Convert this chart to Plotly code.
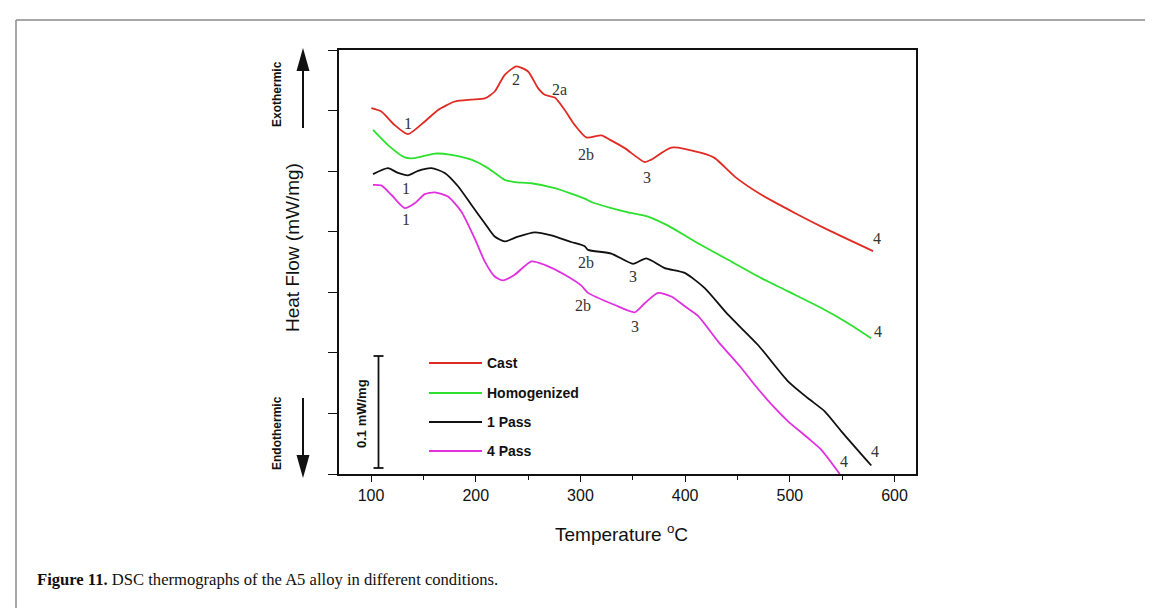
import plotly.graph_objects as go

# ---------------- data (temperature in °C, heat flow in tick units) ----------------
T_cast = [100.3, 109.8, 122.6, 135.3, 151.3, 164, 180, 195.8, 208.6, 218.1, 227.7, 238.8, 250,
          259.5, 265.9, 275.5, 285, 294.6, 305.6, 320, 328.4, 342.3, 361.4, 367.7, 386.8, 415.5,
          428.3, 447.4, 472.8, 504.7, 536.5, 579.5]
HF_cast = [6.04, 5.985, 5.76, 5.61, 5.82, 6.01, 6.15, 6.18, 6.20, 6.315, 6.59, 6.73, 6.645,
           6.37, 6.26, 6.215, 6.01, 5.76, 5.556, 5.59, 5.516, 5.38, 5.15, 5.19, 5.39, 5.30,
           5.215, 4.91, 4.61, 4.31, 4.03, 3.68]

T_homo = [101.9, 116.2, 132.2, 141.7, 160.8, 176.7, 195.8, 211.7, 227.7, 237.2, 253.1, 275.5,
          304.1, 310.4, 329.5, 345.5, 364.6, 383.7, 409.2, 441, 472.8, 498.3, 530.1, 555.6, 577.8]
HF_homo = [5.68, 5.43, 5.226, 5.215, 5.29, 5.27, 5.19, 5.05, 4.856, 4.82, 4.80, 4.72,
           4.546, 4.49, 4.39, 4.32, 4.25, 4.10, 3.84, 3.536, 3.234, 3.015, 2.74, 2.49, 2.24]

T_1p = [101.9, 116.2, 125.8, 135.3, 144.9, 157.6, 170.4, 183.1, 195.8, 208.6, 218.1, 227.7,
        240.4, 256.4, 272.2, 291.3, 304.1, 307.3, 329.5, 350.2, 362.9, 380.5, 399.6, 418.7,
        441, 469.6, 498.3, 517.4, 533.3, 549.2, 577.8]
HF_1p = [4.95, 5.05, 4.97, 4.93, 5.005, 5.05, 4.97, 4.75, 4.444, 4.14, 3.92, 3.84,
         3.92, 3.99, 3.94, 3.83, 3.76, 3.70, 3.64, 3.47, 3.56, 3.40, 3.32, 3.07,
         2.63, 2.13, 1.53, 1.25, 1.035, 0.705, 0.14]

T_4p = [101.9, 109.8, 119.4, 132.2, 141.7, 151.3, 160.8, 173.5, 186.2, 199, 208.6, 218.1,
        226.1, 237.2, 253.1, 265.9, 285, 300.9, 307.3, 332.8, 351.9, 361.4, 374.1, 386.8,
        399.6, 412.3, 431.4, 453.7, 466.5, 485.6, 498.3, 517.4, 530.1, 547.7]
HF_4p = [4.774, 4.764, 4.61, 4.39, 4.47, 4.62, 4.65, 4.58, 4.335, 3.89, 3.51, 3.26,
         3.196, 3.29, 3.51, 3.454, 3.29, 3.11, 2.99, 2.79, 2.67, 2.82, 2.99, 2.93,
         2.77, 2.61, 2.19, 1.75, 1.47, 1.09, 0.87, 0.594, 0.40, 0.0]

series_names = ["Cast", "Homogenized", "1 Pass", "4 Pass"]
series_T = [T_cast, T_homo, T_1p, T_4p]
series_HF = [HF_cast, HF_homo, HF_1p, HF_4p]
series_colors = ["#e02a22", "#2ee02e", "#111111", "#e030e0"]

x_ticks = [100, 200, 300, 400, 500, 600]

# peak labels: (text, temperature, heat flow)
peak_labels = [
    ("1", 135.3, 5.79), ("2", 238.8, 6.51), ("2a", 280.0, 6.34), ("2b", 305.6, 5.28),
    ("3", 363.6, 4.90), ("4", 583.0, 3.89),
    ("4", 584.5, 2.36),
    ("1", 133.7, 4.72), ("2b", 304.9, 3.50), ("3", 350.2, 3.26), ("4", 581.5, 0.375),
    ("1", 133.7, 4.20), ("2b", 302.5, 2.79), ("3", 352.4, 2.44), ("4", 552.0, 0.20),
]

# ---------------- layout geometry ----------------
W, H = 1153, 608
L, R, TOP, BOT = 331, 908, 42, 466
SANS = "Liberation Sans, Arial, sans-serif"
SERIF = "Liberation Serif, Times New Roman, serif"


def px(x):
    return (x - L) / (R - L)


def py(y):
    return (BOT - y) / (BOT - TOP)


fig = go.Figure()
for name, tx, hf, col in zip(series_names, series_T, series_HF, series_colors):
    fig.add_trace(go.Scatter(x=tx, y=hf, mode="lines", name=name,
                             line=dict(color=col, width=1.8, shape="spline", smoothing=0.6),
                             showlegend=False, cliponaxis=True))

annotations = []
for txt, tx, hf in peak_labels:
    annotations.append(dict(x=tx, y=hf, xref="x", yref="y", text=txt, showarrow=False,
                            xanchor="center", yanchor="middle",
                            font=dict(family=SERIF, size=16, color="#333333")))


def note(x, y, text, size, bold=False, angle=0, anchor="center", family=SANS):
    annotations.append(dict(x=px(x), y=py(y), xref="paper", yref="paper", text=text,
                            textangle=angle, showarrow=False, xanchor=anchor, yanchor="middle",
                            font=dict(family=family, size=size, color="#111111",
                                      weight="bold" if bold else "normal")))


# legend drawn manually (line + bold text)
shapes = []
leg_y = [355, 385, 414, 443]
for name, col, yy in zip(series_names, series_colors, leg_y):
    shapes.append(dict(type="line", xref="paper", yref="paper", x0=px(421), x1=px(474),
                       y0=py(yy), y1=py(yy), line=dict(color=col, width=2)))
    note(477, yy, name, 14, bold=True, anchor="left")

# scale bar
sb_x, sb_top, sb_bot = 370.5, 348, 460
shapes.append(dict(type="line", xref="paper", yref="paper", x0=px(sb_x), x1=px(sb_x),
                   y0=py(sb_top), y1=py(sb_bot), line=dict(color="#111", width=1.8)))
for yy in (sb_top, sb_bot):
    shapes.append(dict(type="line", xref="paper", yref="paper", x0=px(sb_x - 5), x1=px(sb_x + 5),
                       y0=py(yy), y1=py(yy), line=dict(color="#111", width=1.8)))
note(353, 406, "0.1 mW/mg", 13, bold=True, angle=-90)

# exo / endo arrows
ax_x = 295
shapes.append(dict(type="line", xref="paper", yref="paper", x0=px(ax_x), x1=px(ax_x),
                   y0=py(120), y1=py(60), line=dict(color="#111", width=2)))
shapes.append(dict(type="path", xref="paper", yref="paper", fillcolor="#111", line=dict(width=0),
                   path=f"M {px(ax_x)} {py(40)} L {px(ax_x - 6.5)} {py(63)} L {px(ax_x + 6.5)} {py(63)} Z"))
shapes.append(dict(type="line", xref="paper", yref="paper", x0=px(ax_x), x1=px(ax_x),
                   y0=py(390), y1=py(450), line=dict(color="#111", width=2)))
shapes.append(dict(type="path", xref="paper", yref="paper", fillcolor="#111", line=dict(width=0),
                   path=f"M {px(ax_x)} {py(470)} L {px(ax_x - 6.5)} {py(447)} L {px(ax_x + 6.5)} {py(447)} Z"))
note(269, 86, "Exothermic", 12, bold=True, angle=-90)
note(269, 425, "Endothermic", 12, bold=True, angle=-90)
note(285, 240, "Heat Flow (mW/mg)", 19, angle=-90)
note(613, 525, "Temperature <sup>o</sup>C", 19)

# caption
note(27, 571, "<b>Figure 11.</b> DSC thermographs of the A5 alloy in different conditions.",
     16.6, anchor="left", family=SERIF)

# outer page frame
fc = "#8a8a8a"
shapes.append(dict(type="line", xref="paper", yref="paper", x0=px(8), x1=px(8), y0=py(12), y1=py(620),
                   line=dict(color=fc, width=1.5)))
shapes.append(dict(type="line", xref="paper", yref="paper", x0=px(8), x1=px(1145), y0=py(12), y1=py(12),
                   line=dict(color=fc, width=1.5)))
shapes.append(dict(type="line", xref="paper", yref="paper", x0=px(1145), x1=px(1145), y0=py(12), y1=py(620),
                   line=dict(color=fc, width=1.5)))

fig.update_layout(
    width=W, height=H,
    margin=dict(l=L, r=W - R, t=TOP, b=H - BOT, pad=0),
    paper_bgcolor="white", plot_bgcolor="white",
    shapes=shapes, annotations=annotations,
    xaxis=dict(range=[69.4, 620.5], tickvals=x_ticks, ticktext=[str(v) for v in x_ticks],
               ticks="outside", ticklen=6, tickwidth=1.3, tickcolor="#111",
               minor=dict(tickvals=[150, 250, 350, 450, 550], ticks="outside", ticklen=4,
                          tickwidth=1.3, tickcolor="#111"),
               showline=True, linecolor="#111", linewidth=1.5, mirror=True,
               showgrid=False, zeroline=False,
               tickfont=dict(family=SANS, size=16, color="#111")),
    yaxis=dict(range=[0, 7], tickvals=list(range(8)), showticklabels=False,
               ticks="outside", ticklen=9, tickwidth=1.3, tickcolor="#111",
               showline=True, linecolor="#111", linewidth=1.5, mirror=True,
               showgrid=False, zeroline=False),
    showlegend=False,
)

fig.write_html("out.html")
